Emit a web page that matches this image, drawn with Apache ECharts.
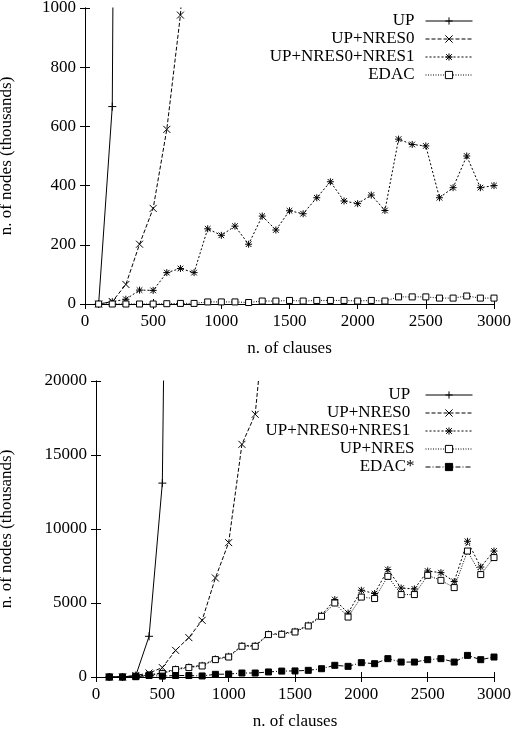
<!DOCTYPE html>
<html>
<head>
<meta charset="utf-8">
<script src="https://cdn.jsdelivr.net/npm/echarts@6/dist/echarts.min.js"></script>
<style>
html, body { margin: 0; padding: 0; background: #fff; }
#chart { width: 512px; height: 735px; }
</style>
</head>
<body>
<div id="chart"></div>
<script>
// n. of clauses (x values shared by every series)
const clauses = [100, 200, 300, 400, 500, 600, 700, 800, 900, 1000,
    1100, 1200, 1300, 1400, 1500, 1600, 1700, 1800, 1900, 2000,
    2100, 2200, 2300, 2400, 2500, 2600, 2700, 2800, 2900, 3000];

// top plot (thousands of nodes)
const topUP = [0, 667, 8000];
const topNRES0 = [0, 8, 66, 202, 323, 590, 976, 1700];
const topNRES01 = [0, 8, 16, 47, 46, 106, 120, 106, 254, 232,
    263, 202, 297, 250, 315, 305, 359, 413, 348, 339,
    368, 316, 557, 539, 534, 359, 393, 500, 393, 400];
const topEDAC = [0, 0, 0, 0, 0, 1, 2, 2, 7, 7,
    7, 5, 10, 10, 12, 10, 12, 12, 12, 10,
    12, 10, 24, 24, 24, 20, 20, 27, 20, 20];

// bottom plot (thousands of nodes)
const botUP = [0, 0, 100, 2750, 13100, 90000];
const botNRES0 = [0, 0, 100, 270, 635, 1800, 2660, 3830, 6690, 9080, 15720, 17750, 27000];
const botNRES01 = [0, 0, 50, 150, 270, 540, 680, 790, 1220, 1400,
    2120, 2120, 2900, 2930, 3090, 3500, 4170, 5230, 4320, 5860,
    5640, 7260, 6010, 5950, 7160, 7050, 6450, 9170, 7430, 8510];
const botNRES = [0, 0, 50, 130, 230, 500, 635, 745, 1175, 1350,
    2075, 2075, 2865, 2885, 3040, 3450, 4100, 5000, 4050, 5400,
    5300, 6800, 5570, 5570, 6870, 6530, 6040, 8510, 6920, 8070];
const botEDACs = [0, 0, 20, 100, 60, 100, 100, 70, 180, 200,
    270, 270, 340, 400, 410, 450, 560, 790, 720, 970,
    900, 1240, 1010, 1010, 1170, 1240, 1010, 1460, 1170, 1350];

const xTicks = { min: 0, max: 3000, interval: 500 };
const topY = { min: 0, max: 1000, interval: 200 };
const botY = { min: 0, max: 20000, interval: 5000 };

const FONT = "'Liberation Serif', 'DejaVu Serif', serif";
const plus = 'path://M0,5L10,5M5,0L5,10';
const cross = 'path://M1,1L9,9M9,1L1,9';
const star = 'path://M0,5L10,5M5,0L5,10M1,1L9,9M9,1L1,9';

function pts(vals) {
    return vals.map((v, i) => [clauses[i], v]);
}

function line(name, vals, gi, symbol, size, dash, fill) {
    return {
        name: name,
        type: 'line',
        xAxisIndex: gi * 2,
        yAxisIndex: gi * 2,
        data: pts(vals),
        symbol: symbol,
        symbolSize: size,
        showAllSymbol: true,
        clip: true,
        lineStyle: { color: '#000', width: 1, type: dash },
        itemStyle: { color: fill || '#000', borderColor: '#000', borderWidth: 1 },
        emphasis: { disabled: true }
    };
}

const plain = v => String(v);

function axesX(gi) {
    const base = {
        type: 'value', gridIndex: gi, min: xTicks.min, max: xTicks.max, interval: xTicks.interval,
        axisLine: { lineStyle: { color: '#000', width: 1 } },
        axisTick: { inside: true, length: 5, lineStyle: { color: '#000' } },
        splitLine: { show: false }
    };
    return [
        Object.assign({}, base, {
            position: 'bottom',
            name: 'n. of clauses', nameLocation: 'middle', nameGap: 36,
            nameTextStyle: { fontFamily: FONT, fontSize: 17, color: '#000' },
            axisLabel: { fontFamily: FONT, fontSize: 17, color: '#000', margin: 9, formatter: plain }
        }),
        Object.assign({}, base, { position: 'top', axisLabel: { show: false } })
    ];
}

function axesY(gi, r, gap) {
    const base = {
        type: 'value', gridIndex: gi, min: r.min, max: r.max, interval: r.interval,
        axisLine: { show: true, lineStyle: { color: '#000', width: 1 } },
        axisTick: { show: true, inside: true, length: 5, lineStyle: { color: '#000' } },
        splitLine: { show: false }
    };
    return [
        Object.assign({}, base, {
            position: 'left',
            name: 'n. of nodes (thousands)', nameLocation: 'middle', nameGap: gap, nameRotate: 90,
            nameTextStyle: { fontFamily: FONT, fontSize: 17, color: '#000' },
            axisLabel: { fontFamily: FONT, fontSize: 17, color: '#000', margin: 9, formatter: plain }
        }),
        Object.assign({}, base, { position: 'right', axisLabel: { show: false } })
    ];
}

function legend(names, top) {
    return {
        data: names,
        orient: 'vertical',
        right: 39,
        top: top,
        padding: 0,
        align: 'right',
        itemWidth: 47,
        itemHeight: 9,
        itemGap: 0,
        selectedMode: false,
        itemStyle: { borderWidth: 1 },
        lineStyle: { width: 1 },
        textStyle: { fontFamily: FONT, fontSize: 17, color: '#000', lineHeight: 18, padding: [0, 6, 0, 0] }
    };
}

const chart = echarts.init(document.getElementById('chart'));
chart.setOption({
    animation: false,
    backgroundColor: '#fff',
    grid: [
        { left: 85, right: 18, top: 8, height: 296, outerBoundsMode: 'none' },
        { left: 96, right: 18, top: 381, height: 296, outerBoundsMode: 'none' }
    ],
    legend: [
        legend(['UP', 'UP+NRES0', 'UP+NRES0+NRES1', 'EDAC'], 12),
        legend(['UP ', 'UP+NRES0 ', 'UP+NRES0+NRES1 ', 'UP+NRES', 'EDAC*'], 386)
    ],
    xAxis: axesX(0).concat(axesX(1)),
    yAxis: axesY(0, topY, 70).concat(axesY(1, botY, 81)),
    series: [
        line('UP', topUP, 0, plus, 8, 'solid'),
        line('UP+NRES0', topNRES0, 0, cross, 7, [4, 2]),
        line('UP+NRES0+NRES1', topNRES01, 0, star, 7, [2, 2]),
        line('EDAC', topEDAC, 0, 'rect', 6, [1, 1.5], '#fff'),
        line('UP ', botUP, 1, plus, 8, 'solid'),
        line('UP+NRES0 ', botNRES0, 1, cross, 7, [4, 2]),
        line('UP+NRES0+NRES1 ', botNRES01, 1, star, 7, [2, 2]),
        line('UP+NRES', botNRES, 1, 'rect', 6, [1, 1.5], '#fff'),
        line('EDAC*', botEDACs, 1, 'rect', 6, [5, 2, 1, 2])
    ]
});
</script>
</body>
</html>
